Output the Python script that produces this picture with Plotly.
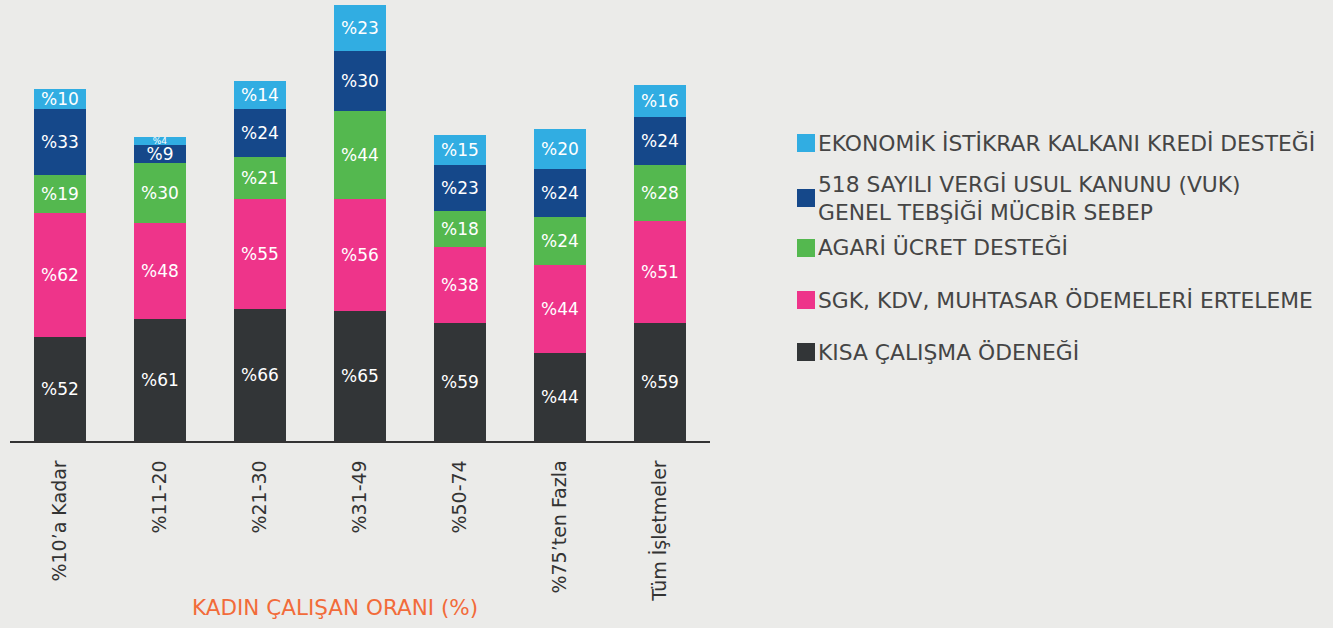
import plotly.graph_objects as go

categories = ["%10’a Kadar", "%11-20", "%21-30", "%31-49", "%50-74", "%75’ten Fazla", "Tüm İşletmeler"]

series_names = [
    "KISA ÇALIŞMA ÖDENEĞİ",
    "SGK, KDV, MUHTASAR ÖDEMELERİ ERTELEME",
    "AGARİ ÜCRET DESTEĞİ",
    "518 SAYILI VERGİ USUL KANUNU (VUK)<br>GENEL TEBŞİĞİ MÜCBİR SEBEP",
    "EKONOMİK İSTİKRAR KALKANI KREDİ DESTEĞİ",
]
kisa_calisma = [52, 61, 66, 65, 59, 44, 59]
sgk_kdv = [62, 48, 55, 56, 38, 44, 51]
asgari_ucret = [19, 30, 21, 44, 18, 24, 28]
vuk_518 = [33, 9, 24, 30, 23, 24, 24]
ekonomik_kredi = [10, 4, 14, 23, 15, 20, 16]

series_values = [kisa_calisma, sgk_kdv, asgari_ucret, vuk_518, ekonomik_kredi]
colors = ["#323537", "#ee348a", "#54b84f", "#15488a", "#31ade2"]

FONT = "DejaVu Sans"

fig = go.Figure()
for name, vals, col in zip(series_names, series_values, colors):
    fig.add_trace(go.Bar(
        x=categories, y=vals, name=name,
        marker=dict(color=col, line=dict(width=0)),
        text=[f"%{v}" for v in vals],
        textposition="inside", insidetextanchor="middle", constraintext="none",
        textfont=dict(color="white", family=FONT,
                      size=[17 if v >= 8 else 9 for v in vals]),
        showlegend=False,
    ))

# legend drawn with shapes + annotations (top item first)
legend_y_px = [143, 198, 248, 300, 352]
plot_left, plot_w, plot_bottom, plot_h = 10, 700, 441, 440
def px2x(px):
    return (px - plot_left) / plot_w
def py2y(py):
    return (plot_bottom - py) / plot_h

shapes = []
annotations = []
for (name, col), ypx in zip(list(zip(series_names, colors))[::-1], legend_y_px):
    shapes.append(dict(type="rect", xref="paper", yref="paper",
                       x0=px2x(797), x1=px2x(815), y0=py2y(ypx + 9), y1=py2y(ypx - 9),
                       fillcolor=col, line=dict(width=0)))
    annotations.append(dict(xref="paper", yref="paper", x=px2x(816), y=py2y(ypx),
                            xanchor="left", yanchor="middle", showarrow=False, align="left",
                            text=name, font=dict(size=21.8, color="#454545", family=FONT)))

annotations.append(dict(xref="paper", yref="paper", x=px2x(335), y=py2y(608),
                        xanchor="center", yanchor="middle", showarrow=False,
                        text="KADIN ÇALIŞAN ORANI (%)",
                        font=dict(size=21.5, color="#f26b3a", family=FONT)))

fig.update_layout(
    width=1333, height=628,
    margin=dict(l=10, r=623, t=1, b=187),
    barmode="stack", bargap=0.48,
    paper_bgcolor="#ebebe9", plot_bgcolor="rgba(0,0,0,0)",
    shapes=shapes, annotations=annotations,
    font=dict(family=FONT),
)
fig.update_xaxes(
    tickangle=-90, tickfont=dict(size=19, color="#333333", family=FONT),
    showline=True, linecolor="#333333", linewidth=1.5,
    showgrid=False, ticks="", ticklabelstandoff=10,
    range=[-0.5, 6.5],
)
fig.update_yaxes(range=[0, 220], showgrid=False, showticklabels=False,
                 zeroline=False, showline=False)

fig.write_html("out.html", config={"displayModeBar": False},
               post_script="document.body.style.margin='0';document.body.style.overflow='hidden';")
